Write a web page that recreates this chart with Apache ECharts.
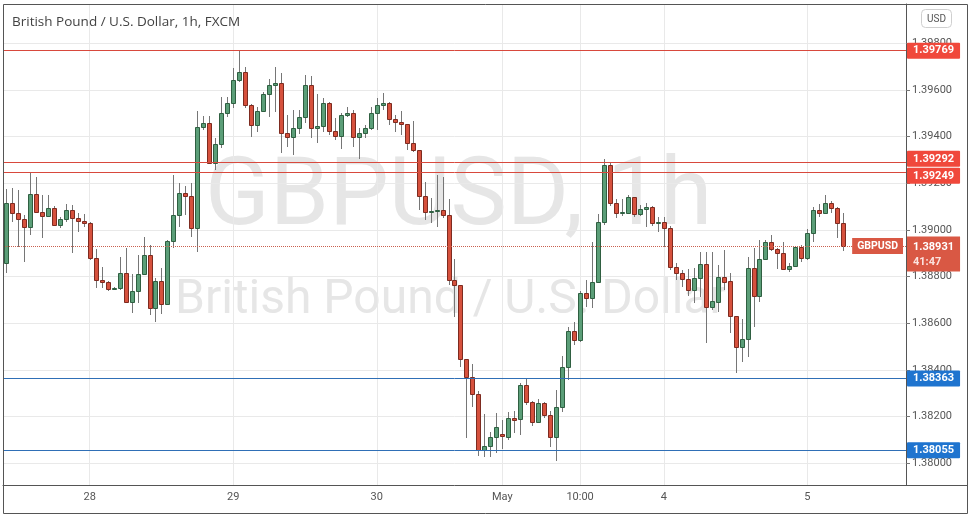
<!DOCTYPE html>
<html>
<head>
<meta charset="utf-8">
<style>
  html, body { margin: 0; padding: 0; background: #fff; }
  #chart { width: 972px; height: 516px; }
</style>
<script src="https://cdn.jsdelivr.net/npm/echarts@6/dist/echarts.min.js"></script>
</head>
<body>
<div id="chart"></div>
<script>
// hourly sessions shown (weekend gap between Apr 30 and May 2)
const sessions = [
  ['Apr 27', 10, 23], ['Apr 28', 0, 23], ['Apr 29', 0, 23], ['Apr 30', 0, 20],
  ['May 2', 21, 23], ['May 3', 0, 23], ['May 4', 0, 23], ['May 5', 0, 16]
];
const tickLabels = {
  'Apr 28 00:00': '28', 'Apr 29 00:00': '29', 'Apr 30 00:00': '30',
  'May 2 21:00': 'May', 'May 3 10:00': '10:00', 'May 4 00:00': '4', 'May 5 00:00': '5'
};

const opens = [1.38858,1.39115,1.39072,1.39047,1.39012,1.39154,1.39077,1.39059,1.39094,1.39021,
  1.39047,1.39085,1.39051,1.39038,1.39029,1.38879,1.38785,1.38776,1.38746,1.38751,
  1.38815,1.38690,1.38738,1.38811,1.38892,1.38665,1.38781,1.38682,1.38952,1.39064,
  1.39158,1.39145,1.39008,1.39441,1.39458,1.39287,1.39368,1.39501,1.39544,1.39643,
  1.39677,1.39536,1.39450,1.39510,1.39583,1.39621,1.39630,1.39415,1.39398,1.39437,
  1.39484,1.39621,1.39437,1.39446,1.39544,1.39424,1.39403,1.39493,1.39501,1.39398,
  1.39415,1.39437,1.39501,1.39536,1.39544,1.39476,1.39463,1.39454,1.39373,1.39343,
  1.39145,1.39077,1.39081,1.39085,1.39064,1.38785,1.38763,1.38446,1.38369,1.38296,
  1.38056,1.38073,1.38111,1.38124,1.38111,1.38193,1.38189,1.38334,1.38261,1.38176,
  1.38257,1.38206,1.38111,1.38240,1.38412,1.38566,1.38527,1.38729,1.38708,1.38776,
  1.39034,1.39278,1.39115,1.39072,1.39072,1.39141,1.39068,1.39089,1.39098,1.39029,
  1.39034,1.39008,1.38841,1.38815,1.38789,1.38742,1.38793,1.38853,1.38669,1.38690,
  1.38798,1.38781,1.38630,1.38497,1.38532,1.38836,1.38716,1.38875,1.38948,1.38918,
  1.38901,1.38832,1.38845,1.38926,1.38879,1.38986,1.39085,1.39072,1.39115,1.39094,
  1.39029];
const closes = [1.39115,1.39072,1.39047,1.39012,1.39154,1.39077,1.39059,1.39094,1.39021,1.39047,
  1.39085,1.39051,1.39038,1.39029,1.38879,1.38785,1.38776,1.38746,1.38751,1.38815,
  1.38690,1.38738,1.38811,1.38892,1.38665,1.38781,1.38682,1.38952,1.39064,1.39158,
  1.39145,1.39008,1.39441,1.39458,1.39287,1.39368,1.39501,1.39544,1.39643,1.39677,
  1.39536,1.39450,1.39510,1.39583,1.39621,1.39630,1.39415,1.39398,1.39437,1.39484,
  1.39621,1.39437,1.39446,1.39544,1.39424,1.39403,1.39493,1.39501,1.39398,1.39415,
  1.39437,1.39501,1.39536,1.39544,1.39476,1.39463,1.39454,1.39373,1.39343,1.39145,
  1.39077,1.39081,1.39085,1.39064,1.38785,1.38763,1.38446,1.38369,1.38296,1.38056,
  1.38073,1.38111,1.38154,1.38116,1.38193,1.38184,1.38334,1.38261,1.38176,1.38257,
  1.38206,1.38111,1.38240,1.38412,1.38566,1.38527,1.38729,1.38708,1.38776,1.39034,
  1.39278,1.39115,1.39072,1.39077,1.39141,1.39068,1.39089,1.39098,1.39029,1.39034,
  1.39008,1.38841,1.38815,1.38789,1.38742,1.38793,1.38853,1.38669,1.38695,1.38798,
  1.38776,1.38630,1.38497,1.38532,1.38836,1.38716,1.38875,1.38948,1.38918,1.38901,
  1.38832,1.38845,1.38926,1.38879,1.38986,1.39085,1.39072,1.39115,1.39094,1.39029,
  1.38931];
const highs = [1.39175,1.39180,1.39171,1.39064,1.39244,1.39227,1.39149,1.39149,1.39102,1.39055,
  1.39111,1.39107,1.39072,1.39068,1.39034,1.38918,1.38841,1.38781,1.38755,1.38884,
  1.38922,1.38811,1.38892,1.38969,1.38935,1.38793,1.38836,1.38956,1.39235,1.39201,
  1.39188,1.39201,1.39510,1.39488,1.39488,1.39394,1.39570,1.39570,1.39694,1.39769,
  1.39699,1.39540,1.39527,1.39591,1.39647,1.39699,1.39673,1.39493,1.39514,1.39514,
  1.39664,1.39660,1.39583,1.39566,1.39548,1.39480,1.39501,1.39527,1.39514,1.39437,
  1.39450,1.39527,1.39566,1.39587,1.39548,1.39493,1.39510,1.39454,1.39467,1.39343,
  1.39205,1.39137,1.39235,1.39227,1.39132,1.38875,1.38763,1.38446,1.38424,1.38309,
  1.38210,1.38133,1.38214,1.38184,1.38219,1.38223,1.38343,1.38364,1.38266,1.38274,
  1.38261,1.38223,1.38313,1.38459,1.38583,1.38605,1.38738,1.38785,1.38948,1.39068,
  1.39305,1.39292,1.39132,1.39132,1.39149,1.39141,1.39107,1.39115,1.39102,1.39055,
  1.39055,1.39017,1.38858,1.38828,1.38832,1.38836,1.38905,1.38905,1.38905,1.38849,
  1.38914,1.38815,1.38630,1.38618,1.38884,1.38922,1.38956,1.38956,1.38978,1.38922,
  1.38948,1.38858,1.38931,1.38935,1.39004,1.39098,1.39111,1.39149,1.39124,1.39098,
  1.39072];
const lows = [1.38815,1.39034,1.38926,1.38862,1.38978,1.39072,1.38965,1.39055,1.39017,1.39008,
  1.39034,1.38901,1.38991,1.39012,1.38871,1.38751,1.38751,1.38738,1.38742,1.38742,
  1.38686,1.38643,1.38686,1.38806,1.38635,1.38605,1.38639,1.38678,1.38922,1.39012,
  1.39064,1.38969,1.38905,1.39428,1.39282,1.39257,1.39351,1.39484,1.39523,1.39634,
  1.39523,1.39398,1.39420,1.39506,1.39484,1.39506,1.39330,1.39355,1.39321,1.39411,
  1.39458,1.39394,1.39373,1.39420,1.39407,1.39385,1.39347,1.39484,1.39355,1.39304,
  1.39394,1.39428,1.39428,1.39514,1.39450,1.39420,1.39407,1.39343,1.39334,1.39085,
  1.39042,1.39029,1.39012,1.39051,1.38763,1.38626,1.38412,1.38107,1.38240,1.38030,
  1.38026,1.38026,1.38043,1.38060,1.38098,1.38128,1.38120,1.38249,1.38159,1.38171,
  1.38193,1.38068,1.38008,1.38219,1.38356,1.38506,1.38519,1.38669,1.38665,1.38772,
  1.39021,1.39102,1.39051,1.39059,1.39072,1.39055,1.39059,1.39012,1.39017,1.38991,
  1.38926,1.38828,1.38785,1.38755,1.38716,1.38686,1.38712,1.38515,1.38656,1.38648,
  1.38742,1.38557,1.38386,1.38433,1.38455,1.38583,1.38690,1.38871,1.38909,1.38832,
  1.38828,1.38819,1.38841,1.38862,1.38871,1.38948,1.39055,1.39068,1.39072,1.38965,
  1.38909];

const resistance = [1.39769, 1.39292, 1.39249];
const support = [1.38363, 1.38055];
const lastPrice = 1.38931;
const countdown = '41:47';

const categories = [];
sessions.forEach(function (s) {
  for (let h = s[1]; h <= s[2]; h++) {
    categories.push(s[0] + ' ' + (h < 10 ? '0' + h : h) + ':00');
  }
});
const candles = opens.map(function (o, i) {
  return [i, o, closes[i], lows[i], highs[i]];
});
const isTick = function (idx, val) { return tickLabels[val] !== undefined; };

function renderCandle(params, api) {
  const i = api.value(0);
  const o = api.value(1), c = api.value(2), l = api.value(3), h = api.value(4);
  const pO = api.coord([i, o]), pC = api.coord([i, c]);
  const pL = api.coord([i, l]), pH = api.coord([i, h]);
  const cx = Math.round(pO[0]) + 0.5;
  const top = Math.round(Math.min(pO[1], pC[1])) + 0.5;
  const bot = Math.round(Math.max(pO[1], pC[1])) + 0.5;
  const up = c >= o;
  return {
    type: 'group',
    children: [{
      type: 'line',
      shape: { x1: cx, y1: Math.round(pH[1]), x2: cx, y2: Math.round(pL[1]) },
      style: { stroke: '#767676', lineWidth: 1 }
    }, {
      type: 'rect',
      shape: { x: cx - 2, y: top, width: 4, height: Math.max(bot - top, 1) },
      style: {
        fill: up ? '#5b9e78' : '#d6513d',
        stroke: up ? '#2f5f41' : '#7d2b20',
        lineWidth: 1
      }
    }]
  };
}

const boxLabel = function (bg, dy) {
  return {
    show: true, position: 'end', distance: 1, offset: [0, dy || 0],
    formatter: function (p) { return Number(p.value).toFixed(5); },
    backgroundColor: bg, color: '#fff', fontWeight: 'bold',
    fontSize: 11, fontFamily: 'Roboto', padding: [3, 6, 2, 6], borderRadius: 1
  };
};

const levelLines = [];
resistance.forEach(function (v, k) {
  levelLines.push({
    yAxis: v,
    lineStyle: { color: '#d8493d', width: 1, type: 'solid' },
    label: boxLabel('#f0483b', k === 1 ? -3 : (k === 2 ? 4 : 0))
  });
});
support.forEach(function (v) {
  levelLines.push({
    yAxis: v,
    lineStyle: { color: '#2f6fb6', width: 1, type: 'solid' },
    label: boxLabel('#1f74cf', 0)
  });
});
levelLines.push({
  yAxis: lastPrice,
  lineStyle: { color: '#c9604f', width: 1, type: 'dotted' },
  label: {
    show: true, position: 'end', distance: 1, offset: [0, 8],
    formatter: '{a|' + lastPrice.toFixed(5) + '}\n{b|' + countdown + '}',
    backgroundColor: '#d95844', padding: [3, 6, 2, 6],
    rich: {
      a: { color: '#fff', fontWeight: 'bold', fontSize: 11, fontFamily: 'Roboto', lineHeight: 15 },
      b: { color: '#fbe3df', fontWeight: 'bold', fontSize: 11, fontFamily: 'Roboto', lineHeight: 15 }
    }
  }
});
levelLines.push({
  yAxis: lastPrice,
  lineStyle: { color: 'rgba(0,0,0,0)', width: 1, type: 'solid' },
  label: {
    show: true, position: 'insideEnd', distance: 3, offset: [0, 0],
    formatter: 'GBPUSD', backgroundColor: '#d95844', color: '#fff',
    fontWeight: 'bold', fontSize: 10.5, fontFamily: 'Roboto', padding: [3, 5, 2, 5]
  }
});

const chart = echarts.init(document.getElementById('chart'));
chart.setOption({
  animation: false,
  backgroundColor: '#fff',
  grid: { left: 3, right: 66, top: 4, bottom: 31 },
  xAxis: {
    type: 'category',
    data: categories,
    boundaryGap: true,
    axisLine: { lineStyle: { color: '#555', width: 1 } },
    axisTick: { interval: isTick, alignWithLabel: true, length: 4, lineStyle: { color: '#777' } },
    axisLabel: {
      interval: isTick, color: '#555', fontSize: 11, fontFamily: 'Roboto', margin: 7,
      formatter: function (v) { return tickLabels[v] || ''; }
    },
    splitLine: { show: true, interval: isTick, alignWithLabel: true, lineStyle: { color: '#e9e9e9' } }
  },
  yAxis: {
    type: 'value',
    position: 'right',
    min: 1.37906, max: 1.39969,
    splitNumber: 10, minInterval: 0.002, maxInterval: 0.002,
    scale: true,
    axisLine: { show: true, lineStyle: { color: '#555', width: 1 } },
    axisTick: { show: true, length: 4, lineStyle: { color: '#777' } },
    axisLabel: {
      color: '#555', fontSize: 11, fontFamily: 'Roboto', margin: 6,
      showMinLabel: false, showMaxLabel: false,
      formatter: function (v) { return v.toFixed(5); }
    },
    splitLine: { show: true, lineStyle: { color: '#e9e9e9' } }
  },
  graphic: [
    { type: 'text', z: -1, x: 205, y: 200,
      style: { text: 'GBPUSD, 1h', font: '95px Roboto', fill: '#e6e6e6', verticalAlign: 'middle' } },
    { type: 'text', z: -1, x: 175, y: 301,
      style: { text: 'British Pound / U.S. Dollar', font: '48px Roboto', fill: '#e6e6e6', verticalAlign: 'middle' } },
    { type: 'text', z: 10, x: 12, y: 22,
      style: { text: 'British Pound / U.S. Dollar, 1h, FXCM', font: '13.5px "Open Sans"', fill: '#434343', verticalAlign: 'middle' } },
    { type: 'rect', z: 10, shape: { x: 921.5, y: 9.5, width: 30, height: 18, r: 4 },
      style: { fill: '#fff', stroke: '#cfcfcf', lineWidth: 1 } },
    { type: 'text', z: 11, x: 936.5, y: 19,
      style: { text: 'USD', font: '10px Roboto', fill: '#555', align: 'center', verticalAlign: 'middle' } },
    { type: 'rect', z: 10, shape: { x: 3.5, y: 4.5, width: 964, height: 509 },
      style: { fill: 'none', stroke: '#555', lineWidth: 1 } },
    { type: 'line', z: 10, shape: { x1: 906, y1: 485.5, x2: 968, y2: 485.5 },
      style: { stroke: '#555', lineWidth: 1 } }
  ],
  series: [{
    type: 'custom',
    name: 'GBPUSD',
    renderItem: renderCandle,
    encode: { x: 0, y: [1, 2, 3, 4] },
    data: candles,
    clip: true,
    z: 3
  }, {
    type: 'line',
    data: [],
    z: 2,
    markLine: { silent: true, precision: 5, symbol: ['none', 'none'], animation: false, data: levelLines }
  }]
});
</script>
</body>
</html>
